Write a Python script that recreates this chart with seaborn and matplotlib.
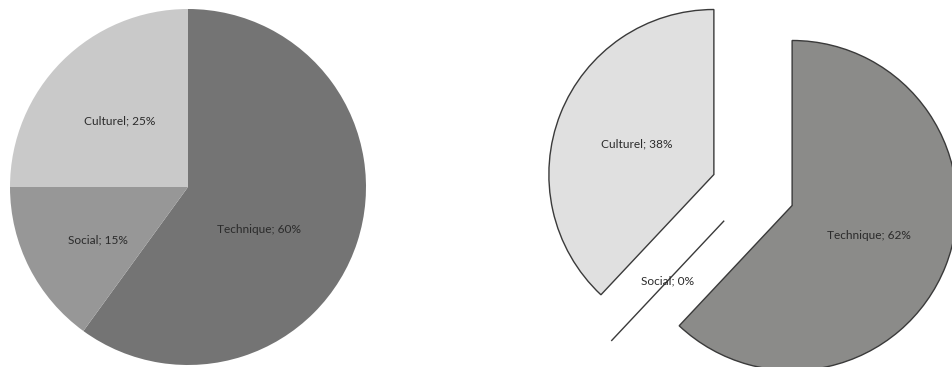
import seaborn as sns
import matplotlib.pyplot as plt

# shares before / after (percent)
categories = ["Technique", "Social", "Culturel"]
values_left = [60, 15, 25]
values_right = [62, 0, 38]

colors_left = ["#747474", "#979797", "#c9c9c9"]
colors_right = ["#8b8b89", "#8b8b89", "#e0e0e0"]

sns.set_theme(style="white")
plt.rcParams['font.family'] = ['Lato', 'DejaVu Sans']

W, H = 953, 367
fig = plt.figure(figsize=(W / 100, H / 100), dpi=100)
ax = fig.add_axes([0, 0, 1, 1])


def make_labels(vals):
    return ["%s; %d%%" % (c, v) for c, v in zip(categories, vals)]


txt = dict(fontsize=8.6, color="#2b2b2b", ha="center", va="center")

# left pie, no borders
r_left = 178
wedges_l, texts_l = ax.pie(values_left, labels=make_labels(values_left), colors=colors_left,
                           startangle=90, counterclock=False, center=(188, 180), radius=r_left,
                           labeldistance=0.5, frame=True,
                           wedgeprops=dict(linewidth=0), textprops=txt)

# right pie, exploded with dark borders (explode is in data units here)
r_right = 165
wedges_r, texts_r = ax.pie(values_right, labels=make_labels(values_right), colors=colors_right,
                           startangle=90, counterclock=False, center=(753, 177), radius=r_right,
                           explode=[0.255 * r_right] * 3, labeldistance=0.5, frame=True,
                           wedgeprops=dict(edgecolor="#3a3a3a", linewidth=1.0), textprops=txt)

# nudge the left labels towards where the original put them
tx, ty = texts_l[0].get_position()
texts_l[0].set_position((tx - 14, ty - 15))
sx, sy = texts_l[1].get_position()
texts_l[1].set_position((sx - 11, sy - 13))
cx, cy = texts_l[2].get_position()
texts_l[2].set_position((cx - 5, cy + 3))

ax.set_xlim(0, W)
ax.set_ylim(0, H)
ax.set_aspect("equal")
ax.axis("off")

plt.savefig("out.png", dpi=100)
